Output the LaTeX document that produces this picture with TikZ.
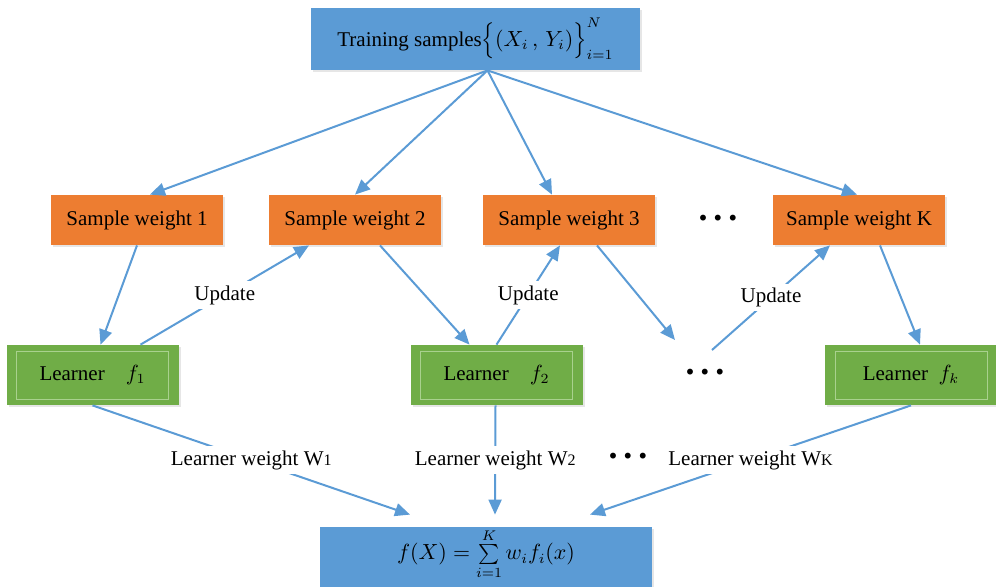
\documentclass[tikz,border=0pt]{standalone}
\usepackage{fontspec}
\setmainfont{Liberation Serif}
\usetikzlibrary{arrows.meta,shadows}
\definecolor{cblue}{HTML}{5B9BD5}
\definecolor{corange}{HTML}{ED7D31}
\definecolor{cgreen}{HTML}{70AD47}
\definecolor{clgreen}{HTML}{A9D18E}
\begin{document}
\begin{tikzpicture}[x=0.5pt,y=-0.5pt,
  every node/.style={font=\fontsize{10.5}{12}\selectfont, text=black},
  boxbase/.style={inner sep=0pt, drop shadow={shadow xshift=1pt,shadow yshift=-1pt,opacity=0.2}},
  bluebox/.style={boxbase, fill=cblue},
  swbox/.style={boxbase, fill=corange, minimum width=86pt, minimum height=25pt},
  lbox/.style={boxbase, fill=cgreen, minimum width=86pt, minimum height=30pt,
    path picture={\draw[clgreen, line width=0.5pt]
      ([xshift=5pt,yshift=-3pt]path picture bounding box.north west) rectangle
      ([xshift=-5pt,yshift=3pt]path picture bounding box.south east);}},
  conn/.style={draw=cblue, line width=1pt, -{Triangle[length=7.5pt,width=6.5pt]}},
  lab/.style={fill=white, inner sep=2pt},
  dotsn/.style={font=\bfseries\fontsize{18}{18}\selectfont, inner sep=0pt}
]
\useasboundingbox (0,0) rectangle (996,586);
\begin{scope}
\clip (0,0) rectangle (996,586);
\node[bluebox, minimum width=164.5pt, minimum height=31pt, font=\fontsize{10.5}{12}\selectfont] (top) at (475.5,39)
  {Training samples$\Bigl\{\bigl(X_i\,,\,Y_i\bigr)\Bigr\}_{i=1}^{N}$};
\node[swbox] (sw1) at (137,220) {Sample weight 1};
\node[swbox] (sw2) at (355,220) {Sample weight 2};
\node[swbox] (sw3) at (569,220) {Sample weight 3};
\node[swbox] (sw4) at (859,220) {Sample weight K};
\node[dotsn] (dtop) at (718,218) {.\,.\,.};
\node[lbox] (l1) at (92.5,375) {Learner\quad $f_1$};
\node[lbox] (l2) at (496.5,375) {Learner\quad $f_2$};
\node[lbox] (lk) at (911,375) {Learner\ \ $f_k$};
\node[dotsn] (dmid) at (705,372) {.\,.\,.};
\node[bluebox, minimum width=166pt, minimum height=34pt] (res) at (486,561) {};
\node (form) at (486,554) {$f(X)=\sum\limits_{i=1}^{K} w_i f_i(x)$};
\coordinate (d1) at (675,340);
\coordinate (d2) at (712,350);

\draw[conn] ([xshift=6pt]top.south) -- ([xshift=6.5pt]sw1.north);
\draw[conn] ([xshift=6pt]top.south) -- (sw2.north);
\draw[conn] ([xshift=6pt]top.south) -- ([xshift=-8.5pt]sw3.north);
\draw[conn] ([xshift=6pt]top.south) -- ([xshift=-1pt]sw4.north);

\draw[conn] (sw1.south) -- ([xshift=4pt]l1.north);
\draw[conn] ([xshift=24pt]l1.north) -- node[lab] (u1) {Update} ([xshift=-23pt]sw2.south);
\draw[conn] ([xshift=12.5pt]sw2.south) -- ([xshift=-13.5pt]l2.north);
\draw[conn] (l2.north) -- node[lab] (u2) {Update} ([xshift=-4.5pt]sw3.south);
\draw[conn] ([xshift=14pt]sw3.south) -- (d1);
\draw[conn] (d2) -- node[lab] (u3) {Update} ([xshift=-14.5pt]sw4.south);
\draw[conn] ([xshift=10.5pt]sw4.south) -- ([xshift=4.5pt]lk.north);

\draw[conn] (l1.south) -- node[lab, pos=0.5] (w1) {Learner weight W{\fontsize{8}{9}\selectfont 1}} ([xshift=-38pt,yshift=6pt]res.north);
\draw[conn] ([xshift=-0.5pt]l2.south) -- node[lab, pos=0.5] (w2) {Learner weight W{\fontsize{8}{9}\selectfont 2}} ([xshift=4.5pt,yshift=6pt]res.north);
\draw[conn] (lk.south) -- node[lab, pos=0.5] (wk) {Learner weight W{\fontsize{8}{9}\selectfont K}} ([xshift=52pt,yshift=6pt]res.north);
\node[dotsn] (dbot) at (628,456) {.\,.\,.};
\end{scope}
\end{tikzpicture}
\end{document}
